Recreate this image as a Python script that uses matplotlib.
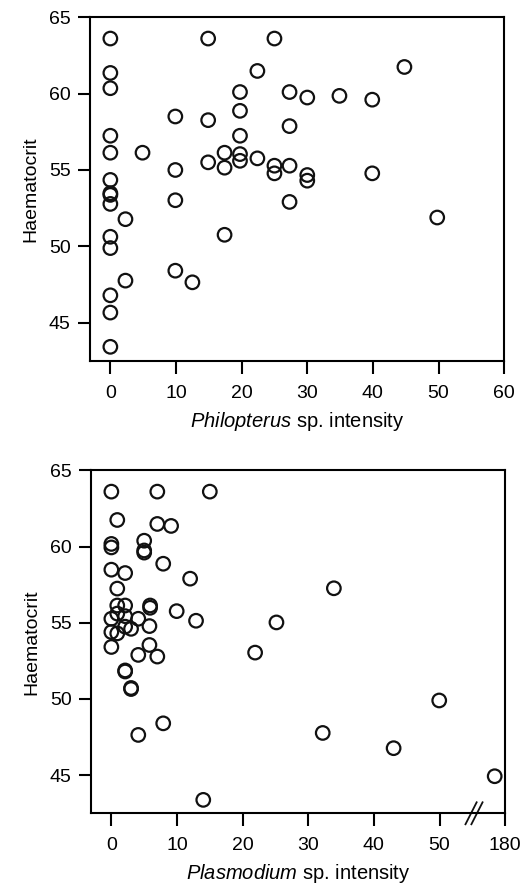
import numpy as np
import matplotlib
matplotlib.use("Agg")
import matplotlib.pyplot as plt
import matplotlib.transforms as mtransforms

plt.rcParams["font.family"] = ["Liberation Sans", "DejaVu Sans"]
plt.rcParams["mathtext.fontset"] = "custom"
plt.rcParams["mathtext.rm"] = "Liberation Sans"
plt.rcParams["mathtext.it"] = "Liberation Sans:italic"

# Philopterus sp. intensity vs haematocrit
philo_x = [0, 0, 0, 0, 0, 0, 0, 0, 0, 0, 0, 0, 0, 0,
           2.3, 2.3, 4.9, 9.9, 9.9, 9.9, 9.9, 12.5,
           14.9, 14.9, 14.9, 17.4, 17.4, 17.4,
           19.75, 19.75, 19.75, 19.75, 19.75, 22.4, 22.4,
           25, 25, 25, 27.3, 27.3, 27.3, 27.3, 30, 30, 30,
           34.9, 39.9, 39.9, 44.8, 49.8]
philo_y = [63.6, 61.35, 60.35, 57.24, 56.13, 54.35, 53.48, 53.37, 52.78, 50.63, 49.89, 46.8, 45.67, 43.43,
           51.78, 47.76, 56.13, 58.5, 55.0, 53.02, 48.41, 47.65,
           63.6, 58.26, 55.5, 56.13, 55.15, 50.76,
           60.1, 58.87, 57.24, 56.04, 55.6, 61.48, 55.76,
           63.6, 55.28, 54.78, 60.1, 57.87, 55.28, 52.91, 59.74, 54.67, 54.3,
           59.85, 59.6, 54.78, 61.74, 51.89]

# Plasmodium sp. intensity vs haematocrit
plasmo_x = [0, 7.0, 15.0, 0.9, 7.0, 9.1, 0, 0, 5.0, 5.0, 5.0, 7.9, 0, 2.1, 12.0, 33.9,
            0.9, 0.9, 2.1, 5.9, 5.9, 9.95, 0, 0.9, 2.1, 4.1, 12.9, 25.15,
            0, 0.9, 2.1, 3.0, 5.8, 0, 5.8, 4.1, 7.0, 21.9,
            2.1, 2.1, 3.0, 3.0, 49.95, 7.9, 4.1, 32.2, 43.0, 178, 14.0]
plasmo_y = [63.6, 63.6, 63.6, 61.74, 61.48, 61.35, 60.17, 59.94, 60.38, 59.74, 59.6, 58.87, 58.48, 58.26, 57.89, 57.26,
            57.24, 56.13, 56.13, 56.13, 55.98, 55.76, 55.26, 55.6, 55.43, 55.26, 55.13, 55.02,
            54.39, 54.3, 54.74, 54.6, 54.78, 53.41, 53.54, 52.89, 52.78, 53.04,
            51.87, 51.8, 50.72, 50.65, 49.9, 48.4, 47.64, 47.77, 46.77, 44.93, 43.38]

x_ticks = [0, 10, 20, 30, 40, 50, 60]
plasmo_ticks = [0, 10, 20, 30, 40, 50, 180]
y_ticks = [45, 50, 55, 60, 65]


def plasmo_pos(x):
    # broken axis: values past the break are squeezed next to 60
    x = np.asarray(x, dtype=float)
    return np.where(x > 55, 60 - (180 - x) * 0.8, x)


def style(ax, xlabel):
    ax.set_xlim(-3.1, 60)
    ax.set_ylim(42.5, 65)
    ax.set_yticks(y_ticks)
    for s in ax.spines.values():
        s.set_linewidth(1.5)
    ax.tick_params(direction="out", length=9, width=1.5, labelsize=14, pad=5)
    ax.tick_params(axis="x", pad=8)
    ax.set_ylabel("Haematocrit", fontsize=14, labelpad=7)
    ax.set_xlabel(xlabel, fontsize=14.5, labelpad=6)


fig = plt.figure(figsize=(5.31, 8.84), dpi=100)
ax1 = fig.add_axes([0.1695, 0.5916, 0.780, 0.389])
ax2 = fig.add_axes([0.1714, 0.080, 0.780, 0.388])

mk = dict(s=95, facecolors="none", edgecolors="#111111", linewidths=1.6, clip_on=False)

ax1.scatter(philo_x, philo_y, **mk)
style(ax1, r"$\it{Philopterus}$ sp. intensity")
ax1.set_xticks(x_ticks)

ax2.scatter(plasmo_pos(plasmo_x), plasmo_y, **mk)
style(ax2, r"$\it{Plasmodium}$ sp. intensity")
ax2.set_xticks(plasmo_pos(plasmo_ticks))
ax2.set_xticklabels([str(t) for t in plasmo_ticks])

# axis break marks
tr = mtransforms.blended_transform_factory(ax2.transData, ax2.transAxes)
for cx in (54.8, 55.7):
    ax2.plot([cx - 0.85, cx + 0.85], [-0.032, 0.032], color="#111111",
             lw=1.3, transform=tr, clip_on=False)

fig.savefig("out.png", dpi=100)
